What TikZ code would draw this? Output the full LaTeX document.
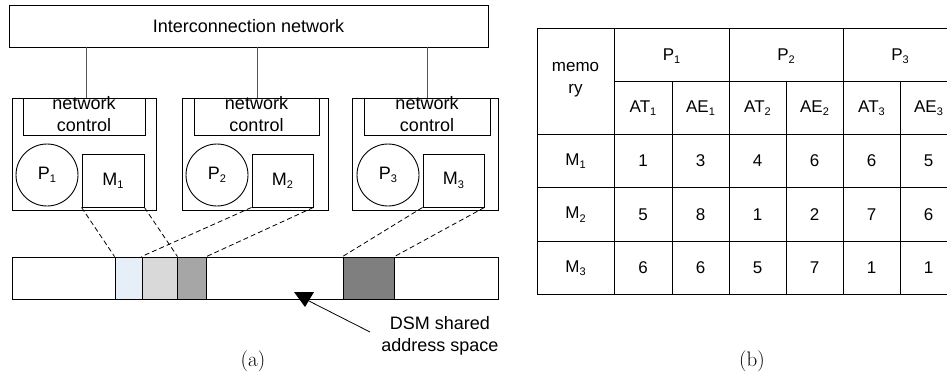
\documentclass[tikz,border=0pt]{standalone}
\usepackage{fontspec}
\newfontfamily\arialf{Liberation Sans}
\newcommand\sbsc[1]{\raisebox{-3.3pt}{\fontsize{11}{11}\selectfont #1}}
\definecolor{segA}{HTML}{E6EEF8}
\definecolor{segB}{HTML}{D9D9D9}
\definecolor{segC}{HTML}{A6A6A6}
\definecolor{segD}{HTML}{7F7F7F}
\definecolor{linkgray}{HTML}{555555}
\begin{document}
\begin{tikzpicture}[x=1pt,y=-1pt,
  txt/.style={font=\arialf\fontsize{18}{22}\selectfont, inner sep=0pt, align=center},
  ttxt/.style={font=\arialf\fontsize{17}{22}\selectfont, inner sep=0pt, align=center},
  boxr/.style={draw, line width=0.9pt, inner sep=0pt},
  dashln/.style={draw, dashed, dash pattern=on 5pt off 3pt, line width=0.8pt},
  capt/.style={font=\rmfamily\fontsize{21}{24}\selectfont, inner sep=0pt}]
\useasboundingbox (0,0) rectangle (947,380);
% Interconnection network
\node[boxr, minimum width=479pt, minimum height=42pt, txt] (net) at (248.5,26) {Interconnection network};
% node boxes
\foreach \i/\xa/\xb/\nca/\ncb/\cx/\ma/\mb in {1/12/156/23/145/47/82/144, 2/182/328/194/319/217/252/313, 3/352/498/364/490/388/423/484}{
  \draw[line width=0.9pt] (\xa,98) rectangle (\xb,210);
  \coordinate (top\i) at ({(\xa+\xb)/2},98);
}
\node[boxr, minimum width=144pt, minimum height=112pt] (nb1) at (84,154) {};
\node[boxr, minimum width=146pt, minimum height=112pt] (nb2) at (255,154) {};
\node[boxr, minimum width=146pt, minimum height=112pt] (nb3) at (425,154) {};
\node[boxr, minimum width=122pt, minimum height=37pt] (nc1) at (84,116.5) {};
\node[boxr, minimum width=125pt, minimum height=37pt] (nc2) at (256.5,116.5) {};
\node[boxr, minimum width=126pt, minimum height=37pt] (nc3) at (427,116.5) {};
\node[txt] at (84,114) {network\\control};
\node[txt] at (256.5,114) {network\\control};
\node[txt] at (427,114) {network\\control};
\node[boxr, circle, minimum size=62pt, txt] (p1) at (47,175) {P\sbsc{1}};
\node[boxr, circle, minimum size=62pt, txt] (p2) at (217,175) {P\sbsc{2}};
\node[boxr, circle, minimum size=62pt, txt] (p3) at (388,175) {P\sbsc{3}};
\node[boxr, minimum width=62pt, minimum height=53pt, txt] (m1) at (113,180.5) {M\sbsc{1}};
\node[boxr, minimum width=61pt, minimum height=53pt, txt] (m2) at (282.5,180.5) {M\sbsc{2}};
\node[boxr, minimum width=61pt, minimum height=53pt, txt] (m3) at (453.5,180.5) {M\sbsc{3}};
% links network -> node boxes
\draw[linkgray, line width=0.9pt] (net.south -| 86,0) -- (nb1.north -| 86,0);
\draw[linkgray, line width=0.9pt] (net.south -| 257,0) -- (nb2.north -| 257,0);
\draw[linkgray, line width=0.9pt] (net.south -| 427,0) -- (nb3.north -| 427,0);
% address space bar
\node[boxr, minimum width=486pt, minimum height=42pt] (bar) at (255,278) {};
\node[boxr, fill=segA, minimum width=27pt, minimum height=42pt] (s1) at (128.5,278) {};
\node[boxr, fill=segB, minimum width=35pt, minimum height=42pt] (s2) at (159.5,278) {};
\node[boxr, fill=segC, minimum width=29pt, minimum height=42pt] (s3) at (191.5,278) {};
\node[boxr, fill=segD, minimum width=51pt, minimum height=42pt] (s4) at (368.5,278) {};
% dashed mappings
\draw[dashln] (m1.south west) -- (s1.north west);
\draw[dashln] (m1.south east) -- (s2.north east);
\draw[dashln] (m2.south west) -- (s2.north west);
\draw[dashln] (m2.south east) -- (s3.north east);
\draw[dashln] (m3.south west) -- (s4.north west);
\draw[dashln] (m3.south east) -- (s4.north east);
% arrow + label
\node[txt, anchor=north] (dsm) at (440,316) {DSM shared\\address space};
\coordinate (tipc) at (307,300);
\draw[line width=0.8pt] (370,332) -- (tipc);
\fill (294,292) -- (314,292) -- (305,307) -- cycle;
\node[capt] (capa) at (253,361) {(a)};
% table
\begin{scope}[line width=0.9pt]
\draw (537,28) rectangle (957,294);
\draw (537,134) -- (957,134);
\draw (537,187) -- (957,187);
\draw (537,241) -- (957,241);
\draw (614,81) -- (957,81);
\foreach \x in {614,729,843} \draw (\x,28) -- (\x,294);
\foreach \x in {672,786,900} \draw (\x,81) -- (\x,294);
\end{scope}
\node[ttxt] (hmem) at (575.5,80) {memo\\ry};
\node[ttxt] (hp1) at (671.5,56) {P\sbsc{1}};
\node[ttxt] (hp2) at (786,56) {P\sbsc{2}};
\node[ttxt] (hp3) at (900,56) {P\sbsc{3}};
\foreach \lab/\cx in {AT\sbsc{1}/643, AE\sbsc{1}/700.5, AT\sbsc{2}/757.5, AE\sbsc{2}/814.5, AT\sbsc{3}/871.5, AE\sbsc{3}/928.5}
  \node[ttxt] at (\cx,108) {\lab};
\foreach \lab/\cy in {M\sbsc{1}/161, M\sbsc{2}/214.5, M\sbsc{3}/268}
  \node[ttxt] at (575.5,\cy) {\lab};
\foreach \cy/\a/\b/\c/\d/\e/\f in {161/1/3/4/6/6/5, 214.5/5/8/1/2/7/6, 268/6/6/5/7/1/1}{
  \node[ttxt] at (643,\cy) {\a};
  \node[ttxt] at (700.5,\cy) {\b};
  \node[ttxt] at (757.5,\cy) {\c};
  \node[ttxt] at (814.5,\cy) {\d};
  \node[ttxt] at (871.5,\cy) {\e};
  \node[ttxt] at (928.5,\cy) {\f};
}
\node[capt] (capb) at (752,361) {(b)};
\end{tikzpicture}
\end{document}
